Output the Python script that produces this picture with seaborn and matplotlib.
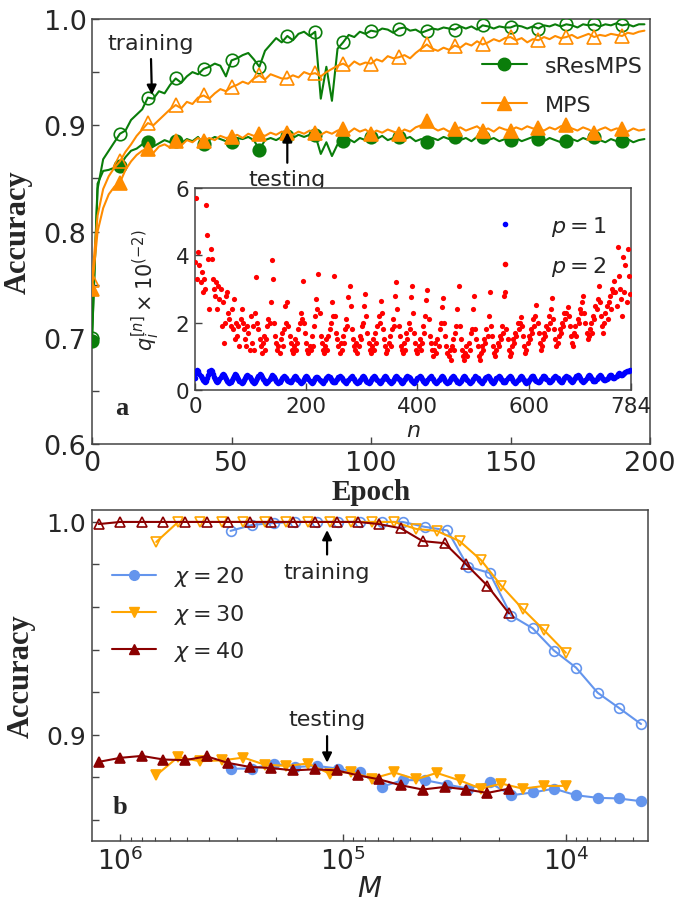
import numpy as np
import matplotlib
matplotlib.use("Agg")
import matplotlib.pyplot as plt
import seaborn as sns
from matplotlib.lines import Line2D

# ---------------- data: panel a (accuracy vs epoch, every 2 epochs) ----------------
epochs = list(range(0, 200, 2))
sres_train = [0.700, 0.840, 0.868, 0.876, 0.884, 0.892, 0.895, 0.905, 0.910, 0.915,
              0.926, 0.925, 0.932, 0.930, 0.938, 0.944, 0.940, 0.946, 0.950, 0.948,
              0.953, 0.955, 0.958, 0.956, 0.946, 0.961, 0.963, 0.966, 0.968, 0.962,
              0.955, 0.970, 0.976, 0.982, 0.978, 0.984, 0.980, 0.986, 0.988, 0.984,
              0.988, 0.925, 0.955, 0.923, 0.972, 0.978, 0.985, 0.983, 0.988, 0.986,
              0.989, 0.988, 0.991, 0.990, 0.987, 0.991, 0.992, 0.989, 0.990, 0.987,
              0.989, 0.991, 0.990, 0.992, 0.991, 0.990, 0.993, 0.991, 0.993, 0.990,
              0.994, 0.993, 0.991, 0.993, 0.992, 0.992, 0.994, 0.993, 0.991, 0.993,
              0.991, 0.994, 0.993, 0.995, 0.993, 0.995, 0.994, 0.992, 0.995, 0.994,
              0.995, 0.993, 0.995, 0.994, 0.996, 0.994, 0.995, 0.993, 0.995, 0.995]
sres_test = [0.697, 0.845, 0.857, 0.858, 0.860, 0.862, 0.870, 0.876, 0.878, 0.882,
             0.884, 0.880, 0.883, 0.886, 0.884, 0.885, 0.883, 0.887, 0.885, 0.889,
             0.882, 0.886, 0.889, 0.887, 0.885, 0.884, 0.888, 0.887, 0.889, 0.886,
             0.877, 0.886, 0.888, 0.886, 0.889, 0.890, 0.888, 0.891, 0.889, 0.891,
             0.891, 0.873, 0.884, 0.871, 0.882, 0.885, 0.887, 0.884, 0.888, 0.886,
             0.889, 0.887, 0.890, 0.886, 0.888, 0.889, 0.887, 0.889, 0.885, 0.887,
             0.884, 0.888, 0.886, 0.889, 0.887, 0.889, 0.886, 0.888, 0.885, 0.889,
             0.889, 0.886, 0.888, 0.885, 0.887, 0.886, 0.888, 0.885, 0.887, 0.889,
             0.887, 0.885, 0.888, 0.886, 0.884, 0.885, 0.887, 0.885, 0.888, 0.886,
             0.889, 0.886, 0.884, 0.887, 0.885, 0.885, 0.887, 0.884, 0.886, 0.887]
mps_train = [0.754, 0.815, 0.840, 0.852, 0.860, 0.866, 0.875, 0.882, 0.890, 0.896,
             0.902, 0.900, 0.905, 0.910, 0.915, 0.919, 0.916, 0.922, 0.920, 0.926,
             0.928, 0.925, 0.930, 0.934, 0.932, 0.936, 0.938, 0.941, 0.939, 0.944,
             0.947, 0.943, 0.948, 0.946, 0.944, 0.944, 0.947, 0.945, 0.950, 0.948,
             0.949, 0.946, 0.950, 0.953, 0.956, 0.958, 0.955, 0.960, 0.957, 0.959,
             0.958, 0.962, 0.960, 0.965, 0.963, 0.964, 0.966, 0.963, 0.968, 0.972,
             0.976, 0.972, 0.970, 0.973, 0.971, 0.975, 0.973, 0.977, 0.975, 0.979,
             0.976, 0.978, 0.981, 0.979, 0.982, 0.983, 0.980, 0.982, 0.978, 0.981,
             0.980, 0.983, 0.981, 0.984, 0.982, 0.983, 0.985, 0.982, 0.984, 0.986,
             0.983, 0.985, 0.984, 0.986, 0.985, 0.984, 0.987, 0.986, 0.988, 0.989]
mps_test = [0.746, 0.800, 0.822, 0.835, 0.842, 0.846, 0.858, 0.866, 0.872, 0.876,
            0.878, 0.874, 0.880, 0.882, 0.879, 0.885, 0.881, 0.886, 0.884, 0.888,
            0.885, 0.888, 0.886, 0.890, 0.888, 0.889, 0.891, 0.888, 0.892, 0.890,
            0.892, 0.890, 0.893, 0.891, 0.894, 0.893, 0.891, 0.894, 0.892, 0.895,
            0.893, 0.891, 0.894, 0.892, 0.895, 0.896, 0.893, 0.897, 0.894, 0.896,
            0.892, 0.895, 0.893, 0.896, 0.894, 0.892, 0.896, 0.894, 0.898, 0.900,
            0.904, 0.898, 0.895, 0.897, 0.894, 0.896, 0.898, 0.895, 0.897, 0.899,
            0.895, 0.897, 0.894, 0.898, 0.896, 0.895, 0.898, 0.896, 0.899, 0.897,
            0.897, 0.895, 0.898, 0.896, 0.899, 0.900, 0.897, 0.895, 0.898, 0.896,
            0.893, 0.896, 0.898, 0.895, 0.897, 0.896, 0.894, 0.897, 0.895, 0.896]

# ---------------- data: inset (q_i^[n] x 1e-2, every 2nd n, grouped per 28-pixel row) ----------------
q_p2_rows = [
    [3.8, 5.7, 3.3, 4.1, 3.7, 3.2, 3.5, 2.9, 3.3, 3.0, 5.5, 4.6, 3.9, 2.4],
    [4.2, 3.9, 3.3, 3.0, 2.8, 3.2, 2.4, 3.1, 2.7, 3.0, 1.9, 2.6, 1.4, 2.0],
    [2.8, 2.9, 2.3, 2.1, 1.9, 2.4, 1.8, 2.7, 1.5, 2.0, 1.6, 1.9, 1.3, 2.1],
    [2.4, 2.0, 1.8, 1.5, 1.3, 1.9, 1.7, 1.2, 2.2, 1.4, 1.9, 1.2, 2.3, 3.35],
    [2.0, 1.8, 1.5, 1.3, 1.1, 1.4, 1.6, 1.2, 1.5, 1.9, 2.1, 2.0, 2.6, 3.85],
    [3.3, 2.0, 1.6, 1.4, 1.2, 1.3, 1.1, 1.5, 1.7, 1.3, 1.8, 2.5, 2.0, 2.6],
    [1.9, 1.6, 1.4, 1.2, 1.1, 1.3, 1.5, 1.2, 1.4, 1.8, 2.0, 2.3, 2.1, 3.25],
    [2.0, 1.7, 1.4, 1.2, 1.1, 1.3, 1.2, 1.6, 1.3, 1.9, 2.2, 2.7, 2.4, 3.45],
    [2.3, 1.6, 1.4, 1.2, 1.1, 1.3, 1.5, 1.2, 1.6, 1.8, 2.0, 2.6, 2.2, 3.4],
    [2.2, 1.7, 1.5, 1.3, 1.1, 1.4, 1.2, 1.6, 1.4, 1.8, 2.1, 1.9, 2.75, 3.1],
    [2.5, 1.8, 1.5, 1.3, 1.2, 1.4, 1.1, 1.3, 1.6, 1.5, 1.9, 2.0, 2.5, 2.85],
    [2.2, 1.7, 1.4, 1.2, 1.1, 1.3, 1.5, 1.2, 1.7, 1.4, 1.9, 2.2, 2.0, 2.65],
    [2.3, 1.8, 1.5, 1.3, 1.1, 1.2, 1.4, 1.6, 1.3, 1.8, 2.1, 1.9, 2.8, 3.2],
    [2.4, 1.9, 1.6, 1.3, 1.2, 1.1, 1.4, 1.2, 1.7, 1.5, 2.0, 1.8, 2.75, 3.1],
    [2.3, 1.7, 1.4, 1.2, 1.1, 1.3, 1.5, 1.2, 1.4, 1.9, 1.7, 2.2, 2.68, 2.98],
    [2.1, 1.6, 1.4, 1.2, 1.0, 1.2, 1.4, 1.1, 1.5, 1.3, 1.8, 2.0, 2.47, 2.73],
    [2.0, 1.6, 1.3, 1.1, 1.0, 1.2, 0.9, 1.3, 1.5, 1.2, 1.7, 1.9, 2.4, 3.1],
    [1.9, 1.5, 1.2, 1.0, 0.9, 1.1, 1.3, 1.0, 1.4, 1.2, 1.7, 1.8, 2.42, 2.78],
    [1.8, 1.5, 1.3, 1.0, 0.9, 1.1, 1.3, 1.2, 1.5, 1.4, 1.8, 1.6, 2.2, 2.9],
    [1.9, 1.6, 1.3, 1.1, 1.0, 1.2, 1.4, 1.3, 1.6, 1.5, 1.9, 1.7, 2.8, 2.92],
    [1.8, 1.5, 1.2, 1.0, 1.1, 1.3, 1.5, 1.4, 1.7, 1.6, 2.0, 1.8, 2.0, 2.18],
    [1.9, 1.6, 1.3, 1.1, 1.2, 1.4, 1.6, 1.5, 1.8, 1.7, 2.1, 1.9, 2.2, 2.52],
    [2.0, 1.7, 1.4, 1.2, 1.3, 1.5, 1.7, 1.6, 1.9, 1.8, 2.2, 2.0, 2.4, 2.72],
    [2.1, 1.8, 1.5, 1.3, 1.4, 1.6, 1.8, 1.7, 2.0, 1.9, 2.3, 2.1, 2.3, 2.47],
    [2.2, 1.9, 1.6, 1.4, 1.3, 1.7, 1.9, 1.6, 2.1, 2.0, 2.4, 2.3, 2.6, 2.78],
    [2.3, 2.0, 1.7, 1.5, 1.6, 1.8, 2.0, 1.7, 2.2, 2.1, 2.5, 2.4, 2.7, 3.08],
    [2.6, 2.2, 1.9, 1.7, 2.0, 2.3, 2.5, 2.1, 2.6, 2.8, 2.4, 3.0, 2.9, 3.25],
    [2.9, 2.5, 4.24, 3.4, 3.0, 2.7, 2.2, 3.96, 2.9, 3.7, 2.6, 4.2, 3.4, 2.85],
]
q_p1_rows = [
    [0.35, 0.50, 0.58, 0.55, 0.48, 0.42, 0.36, 0.31, 0.27, 0.25, 0.28, 0.35, 0.45, 0.55],
    [0.60, 0.55, 0.47, 0.40, 0.33, 0.28, 0.25, 0.27, 0.32, 0.38, 0.44, 0.48, 0.45, 0.40],
    [0.34, 0.28, 0.24, 0.22, 0.25, 0.30, 0.36, 0.42, 0.46, 0.44, 0.39, 0.33, 0.28, 0.24],
    [0.21, 0.24, 0.29, 0.35, 0.41, 0.45, 0.43, 0.38, 0.33, 0.28, 0.24, 0.22, 0.25, 0.31],
    [0.37, 0.43, 0.48, 0.45, 0.40, 0.34, 0.29, 0.25, 0.22, 0.24, 0.28, 0.33, 0.39, 0.44],
    [0.42, 0.38, 0.33, 0.28, 0.24, 0.22, 0.25, 0.30, 0.35, 0.40, 0.43, 0.40, 0.35, 0.30],
    [0.26, 0.23, 0.25, 0.29, 0.34, 0.39, 0.42, 0.39, 0.34, 0.29, 0.25, 0.22, 0.24, 0.28],
    [0.33, 0.38, 0.41, 0.38, 0.33, 0.28, 0.24, 0.22, 0.25, 0.30, 0.35, 0.39, 0.40, 0.36],
    [0.31, 0.27, 0.23, 0.22, 0.26, 0.31, 0.36, 0.40, 0.42, 0.38, 0.33, 0.28, 0.25, 0.23],
    [0.25, 0.29, 0.34, 0.39, 0.42, 0.40, 0.35, 0.30, 0.26, 0.23, 0.22, 0.26, 0.31, 0.36],
    [0.40, 0.41, 0.37, 0.32, 0.27, 0.23, 0.21, 0.24, 0.29, 0.34, 0.38, 0.41, 0.38, 0.33],
    [0.28, 0.24, 0.22, 0.25, 0.30, 0.35, 0.39, 0.42, 0.39, 0.34, 0.29, 0.25, 0.22, 0.24],
    [0.29, 0.34, 0.39, 0.41, 0.38, 0.33, 0.28, 0.24, 0.21, 0.23, 0.28, 0.33, 0.38, 0.41],
    [0.39, 0.34, 0.29, 0.25, 0.22, 0.24, 0.29, 0.34, 0.39, 0.42, 0.40, 0.35, 0.30, 0.26],
    [0.23, 0.22, 0.26, 0.31, 0.36, 0.40, 0.42, 0.38, 0.33, 0.28, 0.24, 0.22, 0.25, 0.30],
    [0.35, 0.39, 0.41, 0.37, 0.32, 0.27, 0.23, 0.21, 0.24, 0.29, 0.34, 0.38, 0.41, 0.38],
    [0.33, 0.28, 0.24, 0.22, 0.25, 0.30, 0.35, 0.40, 0.42, 0.39, 0.34, 0.29, 0.25, 0.22],
    [0.24, 0.28, 0.33, 0.38, 0.41, 0.39, 0.34, 0.29, 0.25, 0.22, 0.23, 0.27, 0.32, 0.37],
    [0.41, 0.40, 0.35, 0.30, 0.26, 0.23, 0.22, 0.26, 0.31, 0.36, 0.40, 0.42, 0.38, 0.33],
    [0.28, 0.24, 0.22, 0.25, 0.30, 0.35, 0.40, 0.42, 0.39, 0.34, 0.29, 0.25, 0.23, 0.25],
    [0.30, 0.35, 0.40, 0.42, 0.38, 0.33, 0.28, 0.24, 0.22, 0.24, 0.29, 0.34, 0.39, 0.42],
    [0.39, 0.34, 0.29, 0.25, 0.22, 0.24, 0.29, 0.34, 0.39, 0.43, 0.41, 0.36, 0.31, 0.27],
    [0.24, 0.23, 0.27, 0.32, 0.37, 0.41, 0.43, 0.39, 0.34, 0.29, 0.25, 0.23, 0.26, 0.31],
    [0.36, 0.40, 0.43, 0.40, 0.35, 0.30, 0.26, 0.23, 0.25, 0.30, 0.35, 0.40, 0.43, 0.40],
    [0.35, 0.30, 0.26, 0.24, 0.27, 0.32, 0.37, 0.42, 0.44, 0.41, 0.36, 0.31, 0.27, 0.25],
    [0.27, 0.31, 0.36, 0.41, 0.44, 0.42, 0.37, 0.32, 0.28, 0.26, 0.28, 0.33, 0.38, 0.43],
    [0.45, 0.42, 0.37, 0.33, 0.30, 0.29, 0.32, 0.37, 0.42, 0.45, 0.44, 0.40, 0.37, 0.36],
    [0.39, 0.43, 0.47, 0.50, 0.48, 0.45, 0.44, 0.47, 0.51, 0.54, 0.56, 0.55, 0.57, 0.58],
]
n_sites = list(range(0, 784, 2))

# ---------------- data: panel b (accuracy vs M) ----------------
M_chi20 = [3.2e5, 2.56e5, 2.05e5, 1.64e5, 1.31e5, 1.05e5, 8.4e4, 6.7e4, 5.4e4, 4.3e4,
           3.4e4, 2.75e4, 2.2e4, 1.76e4, 1.41e4, 1.13e4, 9.0e3, 7.2e3, 5.8e3, 4.6e3]
train_chi20 = [0.9958, 0.9986, 0.9995, 1.0, 1.0, 1.0, 1.0, 1.0, 1.0, 0.9977,
               0.996, 0.979, 0.976, 0.956, 0.950, 0.9395, 0.9315, 0.9197, 0.9127, 0.905]
test_chi20 = [0.8840, 0.8840, 0.8864, 0.8848, 0.8853, 0.8840, 0.8822, 0.8755, 0.8786, 0.8786,
              0.8765, 0.8746, 0.8775, 0.8715, 0.8728, 0.8746, 0.8715, 0.8703, 0.8700, 0.8687]
M_chi30 = [6.9e5, 5.5e5, 4.4e5, 3.5e5, 2.8e5, 2.25e5, 1.8e5, 1.44e5, 1.15e5, 9.2e4,
           7.4e4, 5.9e4, 4.7e4, 3.8e4, 3.0e4, 2.4e4, 1.95e4, 1.56e4, 1.25e4, 1.0e4]
train_chi30 = [0.9906, 1.0, 1.0, 1.0, 1.0, 1.0, 1.0, 1.0, 1.0, 1.0,
               1.0, 1.0, 0.9967, 0.9958, 0.991, 0.982, 0.970, 0.959, 0.949, 0.9385]
test_chi30 = [0.8809, 0.8895, 0.8875, 0.8879, 0.8892, 0.8859, 0.8853, 0.8864, 0.8817, 0.8825,
              0.8793, 0.8822, 0.8790, 0.8820, 0.8785, 0.8746, 0.8770, 0.8746, 0.8759, 0.8759]
M_chi40 = [1.25e6, 1.0e6, 8.0e5, 6.4e5, 5.12e5, 4.1e5, 3.28e5, 2.62e5, 2.1e5, 1.68e5,
           1.34e5, 1.07e5, 8.6e4, 6.9e4, 5.5e4, 4.4e4, 3.5e4, 2.8e4, 2.25e4, 1.8e4]
train_chi40 = [0.999, 1.0, 1.0, 1.0, 1.0, 1.0, 1.0, 1.0, 1.0, 1.0,
               1.0, 1.0, 1.0, 0.999, 0.997, 0.991, 0.990, 0.980, 0.970, 0.957]
test_chi40 = [0.8872, 0.8891, 0.8900, 0.8883, 0.8880, 0.8898, 0.8867, 0.8848, 0.8843, 0.8832,
              0.8837, 0.8832, 0.8809, 0.8790, 0.8762, 0.8742, 0.8754, 0.8742, 0.8726, 0.8746]

# ---------------- styling ----------------
sns.set_theme(style="ticks")
plt.rcParams["font.family"] = ["DejaVu Sans"]
plt.rcParams["mathtext.fontset"] = "dejavusans"
SERIF = ["Liberation Serif", "DejaVu Serif"]
GREEN = "#0a7d0a"
ORANGE = "#ff8c00"
C20, C30, C40 = "#6495ed", "#ffa500", "#8b0000"
SPINE = "#444444"

fig = plt.figure(figsize=(6.79, 9.04), dpi=100)
axA = fig.add_axes([0.1355, 0.5077, 0.8218, 0.4702])
axB = fig.add_axes([0.1355, 0.0686, 0.8188, 0.3661])


def style_axes(ax, size):
    for s in ax.spines.values():
        s.set_visible(True)
        s.set_color(SPINE)
        s.set_linewidth(1.1)
    ax.tick_params(which="both", direction="in", color=SPINE, labelsize=size,
                   top=False, right=False, pad=4)
    ax.tick_params(which="major", length=5, width=1.0)
    ax.tick_params(which="minor", length=3, width=0.8)
    ax.set_facecolor("white")


# ---------------- panel a ----------------
def draw_a(yv, color, marker, filled, ms):
    sns.lineplot(x=epochs, y=yv, ax=axA, color=color, lw=1.5, marker=marker,
                 markevery=5, markersize=ms,
                 markerfacecolor=(color if filled else "none"), markeredgecolor=color,
                 markeredgewidth=1.2, legend=False, clip_on=True, zorder=3)


draw_a(sres_train, GREEN, "o", False, 9)
draw_a(sres_test, GREEN, "o", True, 9)
draw_a(mps_train, ORANGE, "^", False, 10)
draw_a(mps_test, ORANGE, "^", True, 10)
axA.set_xlim(0, 200)
axA.set_ylim(0.6, 1.0)
axA.set_xticks([0, 50, 100, 150, 200])
axA.set_yticks([0.6, 0.7, 0.8, 0.9, 1.0])
axA.set_yticks([0.65, 0.75, 0.85, 0.95], minor=True)
axA.set_yticklabels(["0.6", "0.7", "0.8", "0.9", "1.0"])
style_axes(axA, 19.5)
axA.tick_params(which="minor", length=5, width=1.0)
axA.set_xlabel("Epoch", family=SERIF, fontweight="bold", fontsize=21, labelpad=2)
axA.set_ylabel("Accuracy", family=SERIF, fontweight="bold", fontsize=22, labelpad=8)

legA = [Line2D([], [], color=GREEN, lw=1.5, marker="o", markersize=9, label="sResMPS"),
        Line2D([], [], color=ORANGE, lw=1.5, marker="^", markersize=10, label="MPS")]
axA.legend(handles=legA, loc="upper right", bbox_to_anchor=(1.022, 0.96), frameon=False,
           fontsize=16, handlelength=2.0, labelspacing=0.85)

axA.annotate("training", xy=(21.5, 0.926), xytext=(21, 0.968), ha="center", va="bottom",
             fontsize=16, arrowprops=dict(arrowstyle="-|>", color="black", lw=1.6,
                                           mutation_scale=14))
axA.annotate("testing", xy=(70, 0.896), xytext=(70, 0.859), ha="center", va="top",
             fontsize=16, arrowprops=dict(arrowstyle="-|>", color="black", lw=1.6,
                                           mutation_scale=14))
axA.text(0.054, 0.085, "a", transform=axA.transAxes, family=SERIF, fontweight="bold",
         fontsize=19, ha="center", va="center")

# ---------------- inset ----------------
axI = fig.add_axes([0.2872, 0.5675, 0.6421, 0.2234])
q_p1 = np.ravel(q_p1_rows)
q_p2 = np.ravel(q_p2_rows)
sns.scatterplot(x=n_sites, y=q_p1, ax=axI, color="blue", s=16, linewidth=0, marker="o",
                legend=False, zorder=3)
sns.scatterplot(x=n_sites, y=q_p2, ax=axI, color="red", s=14, linewidth=0, marker="o",
                legend=False, zorder=3)
axI.set_xlim(0, 784)
axI.set_ylim(0, 6)
axI.set_xticks([0, 200, 400, 600, 784])
axI.set_yticks([0, 2, 4, 6])
style_axes(axI, 15.5)
axI.set_xlabel(r"$n$", fontsize=16, labelpad=3)
axI.set_ylabel(r"$q_i^{[n]}\times10^{(-2)}$", fontsize=15, labelpad=10)
legI = [Line2D([], [], ls="none", marker="o", markersize=3, color="blue", label=r"$p=1$"),
        Line2D([], [], ls="none", marker="o", markersize=3, color="red", label=r"$p=2$")]
axI.legend(handles=legI, loc="upper right", bbox_to_anchor=(0.99, 0.97), frameon=False,
           fontsize=16, handlelength=2.5, labelspacing=0.7)

# ---------------- panel b ----------------
def draw_b(M, yv, color, marker, filled, ms):
    sns.lineplot(x=M, y=yv, ax=axB, color=color, lw=1.5, marker=marker, markersize=ms,
                 markerfacecolor=(color if filled else "none"), markeredgecolor=color,
                 markeredgewidth=1.2, legend=False, sort=False, zorder=3)


draw_b(M_chi20, train_chi20, C20, "o", False, 7)
draw_b(M_chi20, test_chi20, C20, "o", True, 7)
draw_b(M_chi30, train_chi30, C30, "v", False, 7.5)
draw_b(M_chi30, test_chi30, C30, "v", True, 7.5)
draw_b(M_chi40, train_chi40, C40, "^", False, 7.5)
draw_b(M_chi40, test_chi40, C40, "^", True, 7.5)
axB.set_xscale("log")
axB.set_xlim(1.34e6, 4.28e3)
axB.set_ylim(0.85, 1.0056)
yt = [0.86, 0.88, 0.90, 0.92, 0.94, 0.96, 0.98, 1.00]
axB.set_yticks(yt)
axB.set_yticklabels(["", "", "0.9", "", "", "", "", "1.0"])
style_axes(axB, 18)
axB.tick_params(axis="x", which="major", labelsize=19)
axB.set_xlabel(r"$M$", fontsize=20, labelpad=-1)
axB.set_ylabel("Accuracy", family=SERIF, fontweight="bold", fontsize=22, labelpad=8)
legB = [Line2D([], [], color=C20, lw=1.5, marker="o", markersize=7, label=r"$\chi=20$"),
        Line2D([], [], color=C30, lw=1.5, marker="v", markersize=7.5, label=r"$\chi=30$"),
        Line2D([], [], color=C40, lw=1.5, marker="^", markersize=7.5, label=r"$\chi=40$")]
axB.legend(handles=legB, loc="upper left", bbox_to_anchor=(0.0, 0.896), frameon=False,
           fontsize=16, handlelength=2.0, labelspacing=0.6)
axB.annotate("training", xy=(1.18e5, 0.9962), xytext=(1.18e5, 0.9765), ha="center",
             va="center", fontsize=16,
             arrowprops=dict(arrowstyle="-|>", color="black", lw=1.6, mutation_scale=14,
                             shrinkA=3, shrinkB=0))
axB.annotate("testing", xy=(1.18e5, 0.8868), xytext=(1.18e5, 0.9075), ha="center",
             va="center", fontsize=16,
             arrowprops=dict(arrowstyle="-|>", color="black", lw=1.6, mutation_scale=14,
                             shrinkA=3, shrinkB=0))
axB.text(0.05, 0.105, "b", transform=axB.transAxes, family=SERIF, fontweight="bold",
         fontsize=19, ha="center", va="center")

fig.savefig("out.png", dpi=100, facecolor="white")
